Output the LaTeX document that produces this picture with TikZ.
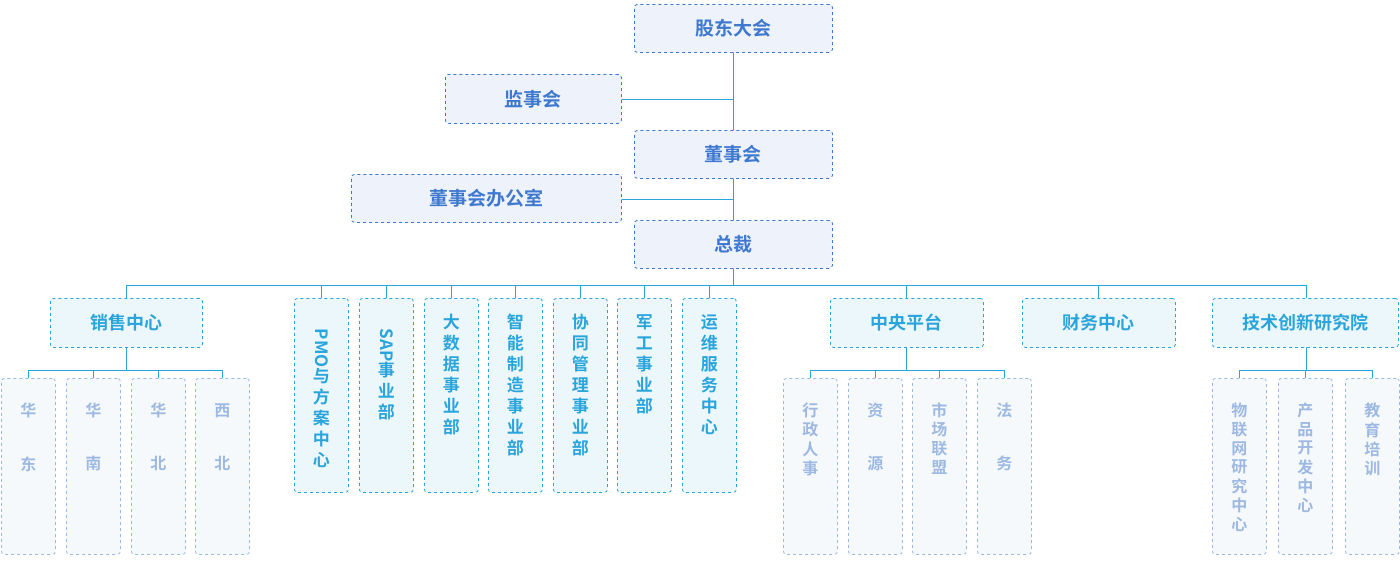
\documentclass[tikz,border=0pt]{standalone}
\usepackage{fontspec}
\newfontfamily\cjk{Noto Sans CJK SC}[BoldFont={Noto Sans CJK SC Bold}]
\definecolor{ca}{HTML}{3E78CF}
\definecolor{cb}{HTML}{2AA5DC}
\definecolor{cc}{HTML}{9DB9E2}
\definecolor{ln}{HTML}{2AA5DC}
\tikzset{
 bx/.style={draw=#1,dashed,rounded corners=3pt,line width=0.8pt,fill=#1!9,inner sep=0pt,anchor=north west,text=#1,font=\cjk\bfseries},
 la/.style={bx=ca,font=\cjk\bfseries\fontsize{19}{22}\selectfont},
 lb/.style={bx=cb,font=\cjk\bfseries\fontsize{18}{21}\selectfont},
 lc/.style={bx=cc,font=\cjk\bfseries\fontsize{16}{19}\selectfont},
 tb/.style={anchor=north,inner sep=0pt,text=cb,font=\cjk\bfseries\fontsize{17}{21}\selectfont,align=center},
 tc/.style={anchor=north,inner sep=0pt,text=cc,font=\cjk\bfseries\fontsize{16}{18.5}\selectfont,align=center},
 cn/.style={draw=ln,line width=0.8pt}
}
\newcommand{\vt}[1]{\begin{tabular}{@{}c@{}}#1\end{tabular}}
\begin{document}
\begin{tikzpicture}[x=1pt,y=-1pt]
\useasboundingbox (0,0) rectangle (1400,576);
% connectors first
\draw[cn] (733,52) -- (733,285);
\draw[cn] (621,99) -- (733,99);
\draw[cn] (621,199) -- (733,199);
\draw[cn] (126,285) -- (1306,285);
\foreach \x in {126,321,386,451,515,580,644,709,906,1098,1306} \draw[cn] (\x,285) -- (\x,298);
\draw[cn] (126,347) -- (126,370) (28,370) -- (222,370);
\foreach \x in {28,93,158,222} \draw[cn] (\x,370) -- (\x,378);
\draw[cn] (906,347) -- (906,370) (810,370) -- (1004,370);
\foreach \x in {810,875,939,1004} \draw[cn] (\x,370) -- (\x,378);
\draw[cn] (1306,347) -- (1306,370) (1239,370) -- (1372,370);
\foreach \x in {1239,1305,1372} \draw[cn] (\x,370) -- (\x,378);
% top
\node[la,minimum width=198pt,minimum height=48pt] (gd) at (634,4) {股东大会};
\node[la,minimum width=176pt,minimum height=49pt] (js) at (445,74) {监事会};
\node[la,minimum width=198pt,minimum height=48pt] (ds) at (634,130) {董事会};
\node[la,minimum width=270pt,minimum height=48pt] (bg) at (351,174) {董事会办公室};
\node[la,minimum width=198pt,minimum height=48pt] (zc) at (634,220) {总裁};
% level 2
\node[lb,minimum width=152pt,minimum height=49pt] (xs) at (50,298) {销售中心};
\node[lb,minimum width=153pt,minimum height=49pt] (zy) at (830,298) {中央平台};
\node[lb,minimum width=153pt,minimum height=49pt] (cw) at (1022,298) {财务中心};
\node[lb,minimum width=186pt,minimum height=49pt] (js2) at (1212,298) {技术创新研究院};
\tikzset{vb/.style={lb,minimum width=54pt,minimum height=194pt}}
\foreach \n/\x in {v1/294,v2/359,v3/424,v4/488,v5/553,v6/617,v7/682} \node[vb] (\n) at (\x,298) {};
\node[tb] (t1) at ([yshift=-16pt]v1.north) {\vt{\rotatebox{-90}{PMO}\\[1pt]与\\方\\案\\中\\心}};
\node[tb] (t2) at ([yshift=-16pt]v2.north) {\vt{\rotatebox{-90}{SAP}\\[1pt]事\\业\\部}};
\node[tb] (t3) at ([yshift=-16pt]v3.north) {\vt{大\\数\\据\\事\\业\\部}};
\node[tb] (t4) at ([yshift=-16pt]v4.north) {\vt{智\\能\\制\\造\\事\\业\\部}};
\node[tb] (t5) at ([yshift=-16pt]v5.north) {\vt{协\\同\\管\\理\\事\\业\\部}};
\node[tb] (t6) at ([yshift=-16pt]v6.north) {\vt{军\\工\\事\\业\\部}};
\node[tb] (t7) at ([yshift=-16pt]v7.north) {\vt{运\\维\\服\\务\\中\\心}};
% level 3
\tikzset{wb/.style={lc,minimum width=54pt,minimum height=176pt}}
\foreach \n/\x in {a1/1,a2/66,a3/131,a4/195,b1/783,b2/848,b3/912,b4/977,c1/1212,c2/1278,c3/1345} \node[wb] (\n) at (\x,378) {};
\node[tc] (s1) at ([yshift=-25pt]a1.north) {\vt{华\\[34pt]东}};
\node[tc] (s2) at ([yshift=-25pt]a2.north) {\vt{华\\[34pt]南}};
\node[tc] (s3) at ([yshift=-25pt]a3.north) {\vt{华\\[34pt]北}};
\node[tc] (s4) at ([yshift=-25pt]a4.north) {\vt{西\\[34pt]北}};
\node[tc] (s5) at ([yshift=-25pt]b1.north) {\vt{行\\政\\人\\事}};
\node[tc] (s6) at ([yshift=-25pt]b2.north) {\vt{资\\[34pt]源}};
\node[tc] (s7) at ([yshift=-25pt]b3.north) {\vt{市\\场\\联\\盟}};
\node[tc] (s8) at ([yshift=-25pt]b4.north) {\vt{法\\[34pt]务}};
\node[tc] (s9) at ([yshift=-25pt]c1.north) {\vt{物\\联\\网\\研\\究\\中\\心}};
\node[tc] (s10) at ([yshift=-25pt]c2.north) {\vt{产\\品\\开\\发\\中\\心}};
\node[tc] (s11) at ([yshift=-25pt]c3.north) {\vt{教\\育\\培\\训}};
\end{tikzpicture}
\end{document}
